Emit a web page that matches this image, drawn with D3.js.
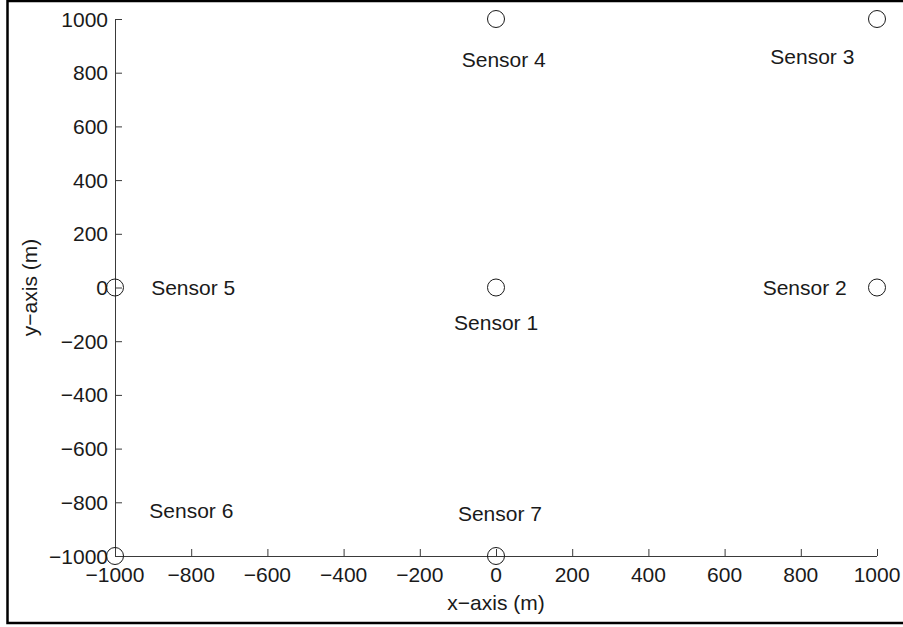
<!DOCTYPE html>
<html>
<head>
<meta charset="utf-8">
<script src="https://cdn.jsdelivr.net/npm/d3@7"></script>
<style>
  html, body { margin: 0; padding: 0; background: #fff; }
  svg { display: block; }
  text { font-family: "Liberation Sans", Arial, Helvetica, sans-serif; fill: #1a1a1a; }
</style>
</head>
<body>
<svg id="chart" width="903" height="627"></svg>
<script>
// ---- data ----
const sensorNames = ["Sensor 1", "Sensor 2", "Sensor 3", "Sensor 4", "Sensor 5", "Sensor 6", "Sensor 7"];
const sensorX = [0, 1000, 1000, 0, -1000, -1000, 0];
const sensorY = [0, 0, 1000, 1000, 0, -1000, -1000];
// text annotation anchor points (data coordinates, left-aligned, vertically centred)
const labelX = [-110, 700, 720, -90, -905, -910, -100];
const labelY = [-130, 0, 860, 850, 0, -830, -840];
const xTicks = [-1000, -800, -600, -400, -200, 0, 200, 400, 600, 800, 1000];
const yTicks = [-1000, -800, -600, -400, -200, 0, 200, 400, 600, 800, 1000];
const xLabel = "x\u2212axis (m)";
const yLabel = "y\u2212axis (m)";

// ---- layout ----
const svg = d3.select("#chart");
const W = 903, H = 627;
const x = d3.scaleLinear().domain([-1000, 1000]).range([115, 877]);
const y = d3.scaleLinear().domain([-1000, 1000]).range([556, 19]);
const fontSize = 21;
const axisColor = "#3a3a3a";
const fmt = v => (v < 0 ? "\u2212" + Math.abs(v) : String(v));

// outer figure border
svg.append("rect")
  .attr("x", 7.5).attr("y", 1).attr("width", 1000).attr("height", 622)
  .attr("fill", "none").attr("stroke", "#000").attr("stroke-width", 2.5);

// axes (inward ticks, MATLAB style)
const xAxis = d3.axisBottom(x).tickValues(xTicks).tickSize(-7).tickPadding(0).tickFormat(() => "");
const yAxis = d3.axisLeft(y).tickValues(yTicks).tickSize(-7).tickPadding(0).tickFormat(() => "");

const gx = svg.append("g").attr("transform", `translate(0,${y(-1000)})`).call(xAxis);
const gy = svg.append("g").attr("transform", `translate(${x(-1000)},0)`).call(yAxis);
[gx, gy].forEach(g => {
  g.select(".domain").attr("stroke", axisColor).attr("stroke-width", 1).attr("d", null);
  g.selectAll(".tick line").attr("stroke", axisColor).attr("stroke-width", 1);
});
gx.select(".domain").attr("d", `M${x(-1000)},0.5H${x(1000)}`);
gy.select(".domain").attr("d", `M0.5,${y(1000)}V${y(-1000)}`);

// tick labels
svg.append("g").selectAll("text").data(xTicks).join("text")
  .attr("x", d => x(d)).attr("y", y(-1000) + 26)
  .attr("text-anchor", "middle").attr("font-size", fontSize)
  .text(fmt);
svg.append("g").selectAll("text").data(yTicks).join("text")
  .attr("x", x(-1000) - 7).attr("y", d => y(d) + 7.5)
  .attr("text-anchor", "end").attr("font-size", fontSize)
  .text(fmt);

// axis titles
svg.append("text")
  .attr("x", (x(-1000) + x(1000)) / 2).attr("y", 610)
  .attr("text-anchor", "middle").attr("font-size", fontSize)
  .text(xLabel);
svg.append("text")
  .attr("transform", `translate(37,${(y(-1000) + y(1000)) / 2}) rotate(-90)`)
  .attr("text-anchor", "middle").attr("font-size", fontSize)
  .text(yLabel);

// sensor markers
const sensors = sensorNames.map((n, i) => ({ name: n, x: sensorX[i], y: sensorY[i], lx: labelX[i], ly: labelY[i] }));
svg.append("g").selectAll("circle").data(sensors).join("circle")
  .attr("cx", d => x(d.x)).attr("cy", d => y(d.y)).attr("r", 8.5)
  .attr("fill", "none").attr("stroke", "#1a1a1a").attr("stroke-width", 1);

// sensor labels
svg.append("g").selectAll("text").data(sensors).join("text")
  .attr("x", d => x(d.lx)).attr("y", d => y(d.ly) + 7.5)
  .attr("font-size", fontSize)
  .text(d => d.name);
</script>
</body>
</html>
